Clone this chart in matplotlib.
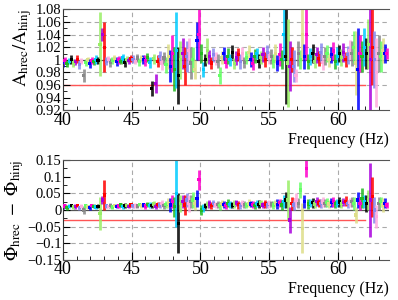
import numpy as np
import matplotlib
matplotlib.use("Agg")
import matplotlib.pyplot as plt
from matplotlib.ticker import MultipleLocator, FuncFormatter

plt.rcParams['font.family'] = ['Liberation Serif', 'DejaVu Serif']
plt.rcParams['mathtext.fontset'] = 'stix'

# injection frequencies (Hz)
freq = [40.00, 40.15, 40.30, 40.45, 40.60, 40.75, 40.90, 41.05, 41.20, 41.35, 41.50, 41.65, 41.80, 41.95, 42.10, 42.25, 42.40,
        42.55, 42.70, 42.85, 43.00, 43.15, 43.30, 43.45, 43.60, 43.75, 43.90, 44.05, 44.20, 44.35, 44.50, 44.65, 44.80, 44.95,
        45.10, 45.25, 45.40, 45.55, 45.70, 45.85, 46.00, 46.15, 46.30, 46.45, 46.60, 46.75, 46.90, 47.05, 47.20, 47.35, 47.50,
        47.65, 47.80, 47.95, 48.10, 48.25, 48.40, 48.55, 48.70, 48.85, 49.00, 49.15, 49.30, 49.45, 49.60, 49.75, 49.90,
        50.05, 50.20, 50.35, 50.50, 50.65, 50.80, 50.95, 51.10, 51.25, 51.40, 51.55, 51.70, 51.85, 52.00, 52.15, 52.30, 52.45,
        52.60, 52.75, 52.90, 53.05, 53.20, 53.35, 53.50, 53.65, 53.80, 53.95, 54.10, 54.25, 54.40, 54.55, 54.70, 54.85, 55.00,
        55.15, 55.30, 55.45, 55.60, 55.75, 55.90, 56.05, 56.20, 56.35, 56.50, 56.65, 56.80, 56.95, 57.10, 57.25, 57.40, 57.55,
        57.70, 57.85,
        58.00, 58.15, 58.30, 58.45, 58.60, 58.75, 58.90, 59.05, 59.20, 59.35, 59.50, 59.65, 59.80, 59.95, 60.10, 60.25, 60.40,
        60.55, 60.70, 60.85,
        61.00, 61.15, 61.30, 61.45, 61.60, 61.75, 61.90, 62.05, 62.20, 62.35, 62.50, 62.65, 62.80, 62.95, 63.10, 63.25, 63.40,
        63.55]

# amplitude ratio hrec/hinj
amp = [0.996, 0.999, 0.994, 0.998, 1.000, 0.995, 0.997, 1.001, 0.993, 0.998, 0.975, 0.996, 1.000, 0.994, 0.999, 0.997, 1.001,
       0.999, 1.025, 1.040, 1.020, 0.998, 1.001, 0.996, 0.999, 1.002, 0.997, 1.000, 0.998, 1.003, 0.996, 1.001, 0.999, 1.002,
       1.001, 0.998, 1.003, 0.997, 1.002, 1.000, 0.999, 1.004, 0.996, 0.955, 1.002, 0.962, 0.998, 1.005, 0.995, 1.003, 0.992,
       1.005, 0.990, 1.010, 0.985, 1.015, 0.975, 1.000, 1.010, 0.990, 1.005, 1.015, 0.995, 1.000, 0.985, 1.030, 1.040,
       1.010, 0.985, 1.000, 1.015, 1.005, 0.995, 1.008, 1.002, 0.998, 0.975, 1.004, 1.010, 0.996, 1.006, 1.000, 1.012, 0.994,
       1.003, 1.008, 0.998, 1.010, 0.996, 1.004, 1.012, 1.000, 0.994, 1.006, 1.010, 0.998, 1.004, 1.008, 1.000, 1.012, 1.003,
       1.005, 0.998, 1.010, 0.995, 1.008, 1.000, 1.040, 1.005, 0.995, 0.990, 1.000, 0.990, 0.975, 1.010, 1.000, 1.040, 1.005,
       1.040, 0.998,
       1.005, 1.010, 0.998, 1.008, 1.002, 1.012, 0.996, 1.006, 1.010, 1.000, 1.008, 1.014, 0.998, 1.006, 1.010, 1.004, 1.012,
       1.000, 1.008, 1.015,
       1.010, 1.020, 0.995, 0.985, 1.010, 1.005, 1.020, 1.010, 1.025, 1.000, 1.020, 1.000, 0.980, 1.010, 1.005, 1.015, 1.010,
       1.010]
amp_err = [0.007, 0.005, 0.006, 0.005, 0.007, 0.006, 0.005, 0.006, 0.007, 0.005, 0.010, 0.006, 0.005, 0.007, 0.006, 0.005, 0.007,
           0.006, 0.050, 0.010, 0.040, 0.006, 0.005, 0.007, 0.006, 0.005, 0.007, 0.006, 0.005, 0.006, 0.007, 0.005, 0.006, 0.006,
           0.006, 0.005, 0.007, 0.006, 0.005, 0.007, 0.008, 0.007, 0.009, 0.012, 0.008, 0.015, 0.010, 0.009, 0.011, 0.010, 0.013,
           0.020, 0.025, 0.030, 0.035, 0.060, 0.045, 0.030, 0.025, 0.030, 0.025, 0.020, 0.025, 0.020, 0.015, 0.030, 0.040,
           0.015, 0.012, 0.010, 0.020, 0.011, 0.009, 0.011, 0.010, 0.011, 0.013, 0.010, 0.011, 0.009, 0.012, 0.010, 0.011, 0.009,
           0.011, 0.010, 0.012, 0.011, 0.009, 0.010, 0.011, 0.012, 0.010, 0.011, 0.009, 0.011, 0.010, 0.012, 0.012, 0.011, 0.010,
           0.012, 0.011, 0.015, 0.012, 0.018, 0.015, 0.040, 0.075, 0.070, 0.040, 0.020, 0.025, 0.010, 0.020, 0.015, 0.040, 0.020,
           0.040, 0.012,
           0.013, 0.015, 0.011, 0.013, 0.012, 0.015, 0.012, 0.014, 0.013, 0.011, 0.013, 0.015, 0.012, 0.014, 0.013, 0.013, 0.015,
           0.012, 0.014, 0.016,
           0.020, 0.025, 0.050, 0.065, 0.030, 0.025, 0.030, 0.025, 0.040, 0.080, 0.060, 0.045, 0.055, 0.030, 0.025, 0.020, 0.015,
           0.008]

# phase difference hrec - hinj (rad)
phase = [0.010, 0.012, 0.008, 0.011, 0.013, 0.009, 0.010, 0.014, 0.007, 0.011, 0.000, 0.012, 0.010, 0.008, 0.013, 0.011, 0.009,
         0.011, -0.010, 0.030, 0.045, 0.012, 0.010, 0.013, 0.009, 0.014, 0.011, 0.012, 0.015, 0.010, 0.013, 0.014, 0.011, 0.015,
         0.013, 0.014, 0.012, 0.016, 0.013, 0.015, 0.012, 0.017, 0.014, 0.013, 0.018, 0.011, 0.016, 0.015, 0.019, 0.013, 0.017,
         0.020, 0.015, 0.025, 0.010, 0.050, -0.040, 0.020, 0.025, 0.015, 0.030, 0.020, 0.025, 0.030, 0.020, 0.035, 0.090,
         0.000, 0.005, 0.012, 0.016, 0.018, 0.014, 0.020, 0.015, 0.017, 0.013, 0.019, 0.016, 0.014, 0.020, 0.017, 0.015, 0.018,
         0.021, 0.016, 0.014, 0.019, 0.017, 0.015, 0.020, 0.018, 0.016, 0.014, 0.019, 0.017, 0.021, 0.015, 0.018, 0.016, 0.019,
         0.018, 0.015, 0.020, 0.017, 0.022, 0.015, 0.025, 0.030, 0.030, -0.030, 0.020, 0.015, 0.030, 0.020, 0.060, -0.055, 0.025,
         0.125, 0.018,
         0.020, 0.022, 0.018, 0.025, 0.021, 0.019, 0.024, 0.020, 0.023, 0.018, 0.022, 0.025, 0.019, 0.021, 0.024, 0.020, 0.023,
         0.026, 0.019, 0.022,
         0.025, 0.020, -0.015, 0.030, 0.020, 0.035, 0.025, 0.020, 0.030, 0.030, 0.040, 0.000, -0.020, 0.020, 0.025, 0.015, 0.020,
         0.015]
phase_err = [0.006, 0.005, 0.007, 0.006, 0.005, 0.006, 0.007, 0.005, 0.006, 0.006, 0.012, 0.005, 0.006, 0.007, 0.005, 0.006, 0.005,
             0.006, 0.050, 0.012, 0.045, 0.006, 0.005, 0.007, 0.006, 0.005, 0.006, 0.007, 0.005, 0.006, 0.007, 0.005, 0.006, 0.006,
             0.006, 0.007, 0.006, 0.005, 0.007, 0.006, 0.008, 0.007, 0.009, 0.008, 0.010, 0.009, 0.008, 0.010, 0.011, 0.009, 0.011,
             0.015, 0.020, 0.020, 0.030, 0.100, 0.090, 0.025, 0.020, 0.030, 0.020, 0.025, 0.020, 0.025, 0.020, 0.025, 0.030,
             0.015, 0.012, 0.010, 0.011, 0.012, 0.010, 0.011, 0.010, 0.010, 0.012, 0.010, 0.011, 0.010, 0.012, 0.010, 0.010, 0.011,
             0.010, 0.012, 0.010, 0.011, 0.010, 0.010, 0.012, 0.010, 0.011, 0.010, 0.010, 0.012, 0.010, 0.010, 0.011, 0.010, 0.012,
             0.010, 0.012, 0.010, 0.015, 0.012, 0.015, 0.020, 0.025, 0.060, 0.040, 0.020, 0.015, 0.020, 0.015, 0.025, 0.075, 0.020,
             0.025, 0.015,
             0.012, 0.015, 0.011, 0.014, 0.012, 0.013, 0.015, 0.012, 0.014, 0.012, 0.013, 0.015, 0.012, 0.012, 0.014, 0.013, 0.012,
             0.015, 0.012, 0.014,
             0.015, 0.020, 0.025, 0.025, 0.020, 0.030, 0.020, 0.025, 0.030, 0.110, 0.060, 0.040, 0.035, 0.020, 0.015, 0.020, 0.015,
             0.010]

# reference lines: (level, last frequency)
amp_limit = (0.96, 62.0)
phase_limit = (-0.03, 62.0)

palette = ['#0000ff', '#ff00cc', '#22bb22', '#00ccff', '#000000', '#99ee66', '#aa00dd',
           '#ff0000', '#8888ee', '#ffaadd', '#888888', '#66ff66', '#dddd88']

freq = np.array(freq)
cols = [palette[i % len(palette)] for i in range(len(freq))]


def fmt(v, pos):
    s = '%g' % round(v, 4)
    return s.replace('-', '\u2212')


def draw(ax, y, yerr, limit, ylim, ystep, gridy, label):
    y = np.array(y)
    yerr = np.array(yerr)
    ax.set_xlim(40, 63.7)
    ax.set_ylim(*ylim)
    for g in gridy:
        ax.axhline(g, color='#aaaaaa', ls=(0, (4, 3)), lw=0.8, zorder=0)
    for g in [45, 50, 55, 60]:
        ax.axvline(g, color='#aaaaaa', ls=(0, (4, 3)), lw=0.8, zorder=0)
    ax.axhline(1.0 if ylim[0] > 0 else 0.0, color='#555555', lw=0.9, zorder=1)
    ax.plot([40, limit[1]], [limit[0], limit[0]], color='#ff5555', lw=1.0, zorder=1)
    ax.vlines(freq, y - yerr, y + yerr, colors=cols, lw=2.0, alpha=0.85, zorder=2)
    ax.scatter(freq, y, c=cols, s=5, marker='s', lw=0, zorder=3)

    ax.spines['right'].set_visible(False)
    ax.spines['top'].set_color('#555555')
    ax.spines['bottom'].set_color('#555555')
    ax.spines['left'].set_color('#333333')
    ax.xaxis.set_major_locator(MultipleLocator(5))
    ax.xaxis.set_minor_locator(MultipleLocator(1))
    ax.yaxis.set_major_locator(MultipleLocator(ystep))
    ax.yaxis.set_minor_locator(MultipleLocator(ystep / 2))
    ax.yaxis.set_major_formatter(FuncFormatter(fmt))
    ax.tick_params(axis='both', which='both', direction='in', top=False, right=False)
    ax.tick_params(axis='x', which='major', length=6, labelsize=13, pad=1)
    ax.tick_params(axis='x', which='minor', length=3)
    ax.tick_params(axis='y', which='major', length=5, labelsize=10.5, pad=1)
    ax.tick_params(axis='y', which='minor', length=3)
    ax.set_xlabel('Frequency (Hz)', fontsize=11.5, loc='right', labelpad=2)
    ax.set_ylabel(label, fontsize=13.5, loc='top', labelpad=1)


fig = plt.figure(figsize=(3.98, 3.0), dpi=100)
ax1 = fig.add_axes([0.158, 0.632, 0.819, 0.337])
ax2 = fig.add_axes([0.158, 0.133, 0.819, 0.334])

draw(ax1, amp, amp_err, amp_limit, (0.92, 1.08), 0.02,
     [0.96, 0.98, 1.02, 1.04, 1.06], r'$\mathrm{A_{hrec}/A_{hinj}}$')
draw(ax2, phase, phase_err, phase_limit, (-0.15, 0.15), 0.05,
     [-0.1, -0.05, 0.05], r'$\mathrm{\Phi_{hrec}\ -\ \Phi_{hinj}}$')

fig.savefig('out.png', dpi=100)
